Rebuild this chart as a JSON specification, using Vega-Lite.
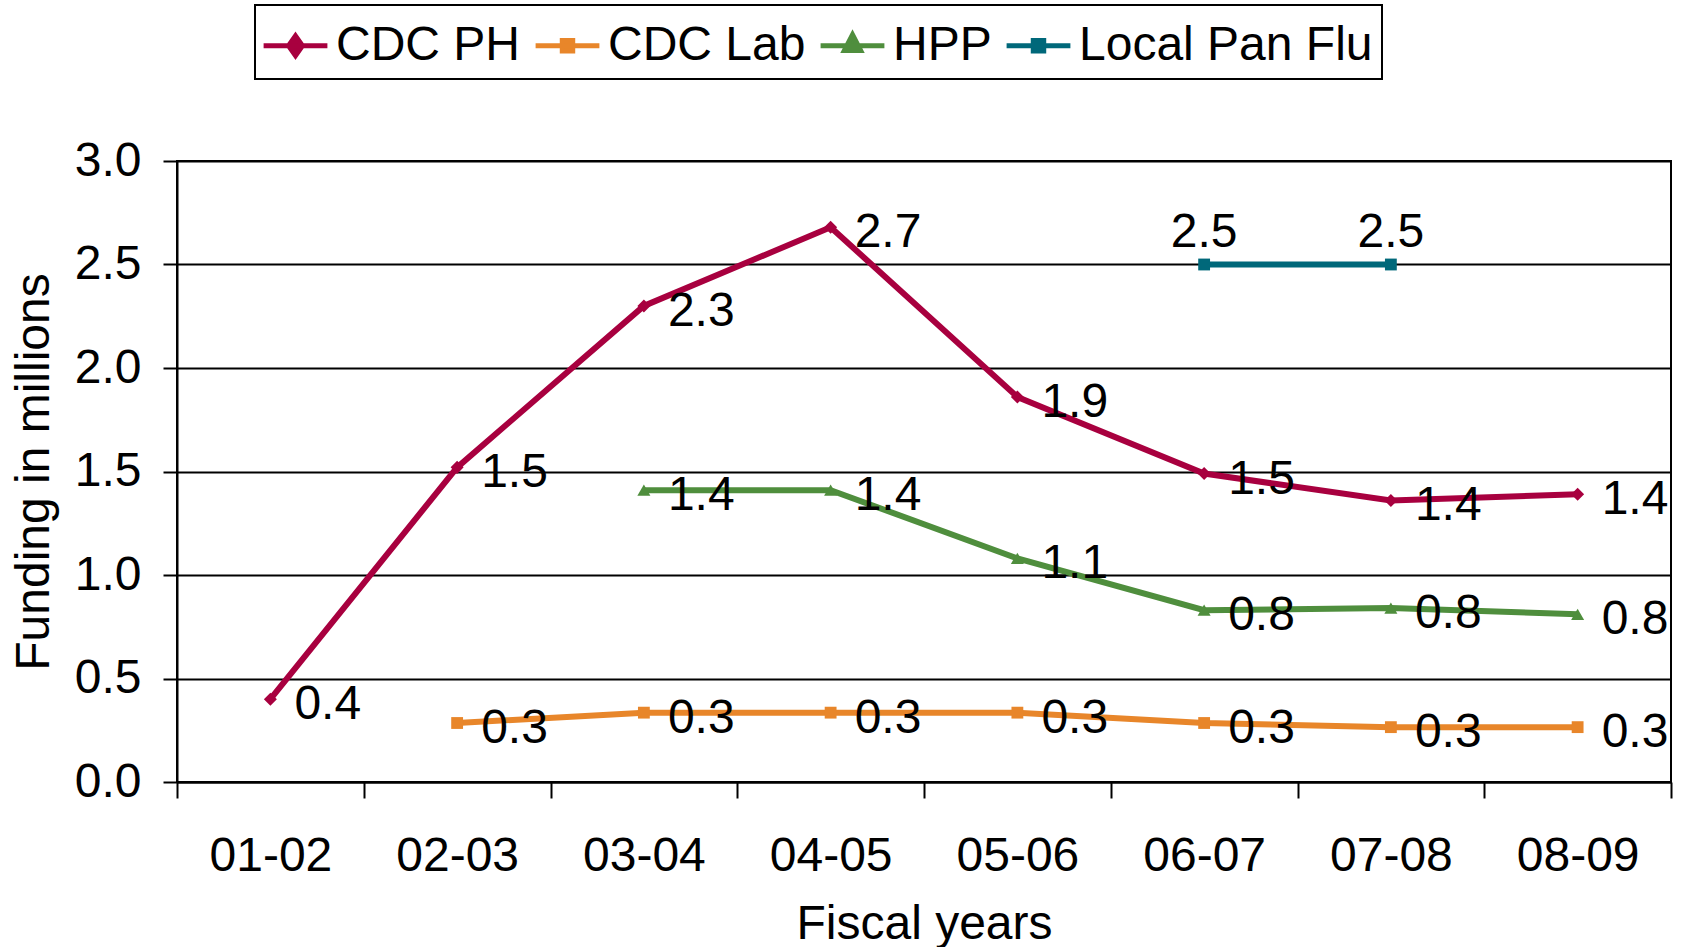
{
  "$schema": "https://vega.github.io/schema/vega-lite/v6.json",
  "width": 1494,
  "height": 621,
  "autosize": {"type": "none"},
  "padding": {"left": 177, "top": 161, "right": 13, "bottom": 165},
  "background": "white",
  "config": {
    "view": {"stroke": "black", "strokeWidth": 2},
    "axis": {
      "labelFont": "Liberation Sans", "titleFont": "Liberation Sans",
      "labelFontSize": 48, "titleFontSize": 48, "titleFontWeight": "normal",
      "labelColor": "black", "titleColor": "black",
      "domainColor": "black", "tickColor": "black", "gridColor": "black",
      "domainWidth": 2, "tickWidth": 2, "gridWidth": 2, "gridOpacity": 1
    }
  },
  "data": {"values": [
    {"series": "CDC PH", "year": "01-02", "value": 0.40},
    {"series": "CDC PH", "year": "02-03", "value": 1.52},
    {"series": "CDC PH", "year": "03-04", "value": 2.30},
    {"series": "CDC PH", "year": "04-05", "value": 2.68},
    {"series": "CDC PH", "year": "05-06", "value": 1.86},
    {"series": "CDC PH", "year": "06-07", "value": 1.49},
    {"series": "CDC PH", "year": "07-08", "value": 1.36},
    {"series": "CDC PH", "year": "08-09", "value": 1.39},
    {"series": "CDC Lab", "year": "02-03", "value": 0.285},
    {"series": "CDC Lab", "year": "03-04", "value": 0.335},
    {"series": "CDC Lab", "year": "04-05", "value": 0.335},
    {"series": "CDC Lab", "year": "05-06", "value": 0.335},
    {"series": "CDC Lab", "year": "06-07", "value": 0.285},
    {"series": "CDC Lab", "year": "07-08", "value": 0.265},
    {"series": "CDC Lab", "year": "08-09", "value": 0.265},
    {"series": "HPP", "year": "03-04", "value": 1.41},
    {"series": "HPP", "year": "04-05", "value": 1.41},
    {"series": "HPP", "year": "05-06", "value": 1.08},
    {"series": "HPP", "year": "06-07", "value": 0.83},
    {"series": "HPP", "year": "07-08", "value": 0.84},
    {"series": "HPP", "year": "08-09", "value": 0.81},
    {"series": "Local Pan Flu", "year": "06-07", "value": 2.50},
    {"series": "Local Pan Flu", "year": "07-08", "value": 2.50}
  ]},
  "encoding": {
    "x": {
      "field": "year", "type": "nominal", "bandPosition": 0.5,
      "scale": {"type": "band", "paddingInner": 0, "paddingOuter": 0,
        "domain": ["01-02", "02-03", "03-04", "04-05", "05-06", "06-07", "07-08", "08-09"]},
      "axis": {"title": "Fiscal years", "labelAngle": 0, "tickBand": "extent", "tickSize": 16,
        "labelPadding": 34, "titlePadding": 20, "grid": false}
    },
    "y": {
      "field": "value", "type": "quantitative",
      "scale": {"domain": [0, 3], "nice": false},
      "axis": {"title": "Funding in millions", "values": [0, 0.5, 1, 1.5, 2, 2.5, 3], "format": ".1f",
        "tickSize": 14, "labelPadding": 22, "titlePadding": 16, "grid": true}
    },
    "color": {
      "field": "series", "type": "nominal",
      "scale": {"domain": ["CDC PH", "CDC Lab", "HPP", "Local Pan Flu"],
        "range": ["#A8003F", "#E8862A", "#4F8E3D", "#00687A"]},
      "legend": {
        "title": null, "orient": "none", "legendX": 78, "legendY": -156,
        "direction": "horizontal", "labelFontSize": 48, "labelFont": "Liberation Sans",
        "labelColor": "black", "labelLimit": 0, "symbolSize": 3364, "symbolStrokeWidth": 5,
        "labelOffset": 9, "columnPadding": 4, "padding": 9,
        "strokeColor": "black", "fillColor": "white",
        "encode": {
          "legend": {"update": {"strokeWidth": {"value": 2}}},
          "symbols": {"update": {
            "shape": {"signal": "datum.value === 'CDC PH' ? 'M-1.1,0H1.1M0,-0.34L0.24,0L0,0.34L-0.24,0Z' : datum.value === 'HPP' ? 'M-1.1,0H1.1M0,-0.38L0.28,0.16L-0.28,0.16Z' : 'M-1.1,0H1.1M-0.18,-0.18H0.18V0.18H-0.18Z'"},
            "fill": {"scale": "color", "field": "value"},
            "stroke": {"scale": "color", "field": "value"},
            "strokeWidth": {"value": 5},
            "opacity": {"value": 1}
          }}
        }
      }
    }
  },
  "layer": [
    {
      "mark": {"type": "line", "strokeWidth": 6}
    },
    {
      "transform": [{"filter": "datum.series === 'CDC PH'"}],
      "mark": {"type": "point", "filled": true, "shape": "diamond", "size": 170, "opacity": 1}
    },
    {
      "transform": [{"filter": "datum.series === 'CDC Lab' || datum.series === 'Local Pan Flu'"}],
      "mark": {"type": "point", "filled": true, "shape": "square", "size": 140, "opacity": 1}
    },
    {
      "transform": [{"filter": "datum.series === 'HPP'"}],
      "mark": {"type": "point", "filled": true, "shape": "triangle-up", "size": 170, "opacity": 1}
    },
    {
      "transform": [{"filter": "datum.series !== 'Local Pan Flu'"}],
      "mark": {"type": "text", "align": "left", "baseline": "middle", "dx": 24, "dy": 6,
        "fontSize": 48, "font": "Liberation Sans", "color": "black"},
      "encoding": {"text": {"field": "value", "type": "quantitative", "format": ".1f"}, "color": {"value": "black"}}
    },
    {
      "transform": [{"filter": "datum.series === 'Local Pan Flu'"}],
      "mark": {"type": "text", "align": "center", "baseline": "middle", "dy": -32,
        "fontSize": 48, "font": "Liberation Sans", "color": "black"},
      "encoding": {"text": {"field": "value", "type": "quantitative", "format": ".1f"}, "color": {"value": "black"}}
    }
  ]
}
